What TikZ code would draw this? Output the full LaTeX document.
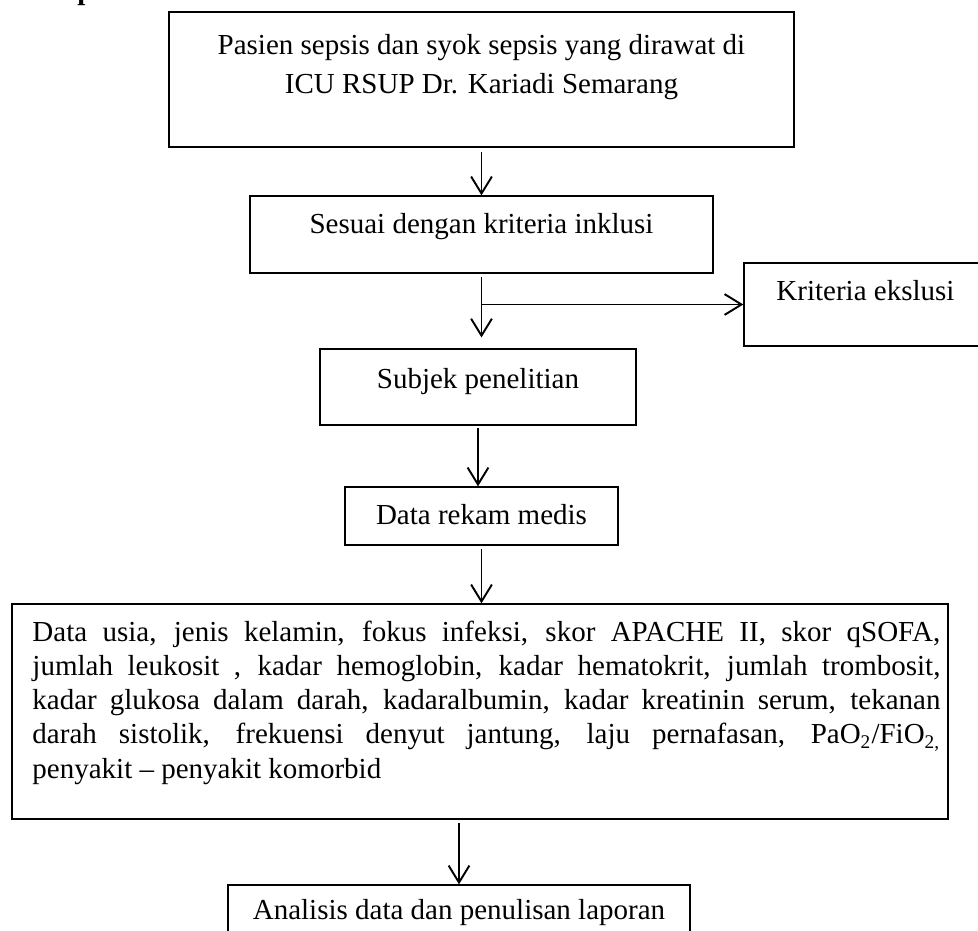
\documentclass[tikz,border=0pt]{standalone}
\usepackage{fontspec}
\setmainfont{Liberation Serif}
\usetikzlibrary{arrows.meta,fit}
\begin{document}
\begin{tikzpicture}[x=0.4138pt,y=-0.4138pt,
  box/.style={draw=black,line width=0.55pt,inner sep=0pt},
  txt/.style={inner sep=0pt,font=\fontsize{12}{14.07}\selectfont},
  arr/.style={-{Straight Barb[length=7pt,width=8.6pt]},line width=0.8pt}]
\useasboundingbox (0,0) rectangle (978,931);
% heading fragment
\node[anchor=base west,inner sep=0pt,font=\bfseries\fontsize{12}{14}\selectfont] (hd) at (77,-0.6) {p};
% boxes
\node[box,fit={(169,12) (794,147)}] (b1) {};
\node[box,fit={(250,196) (713,273)}] (b2) {};
\node[box,fit={(744,263) (990,346)}] (b3) {};
\node[box,fit={(320,349) (636,425)}] (b4) {};
\node[box,fit={(345,487) (618,545)}] (b5) {};
\node[box,fit={(12,604) (948,819)}] (b6) {};
\node[box,fit={(228,885) (690,960)}] (b7) {};
% texts
\node[txt,align=center,anchor=base,font=\fontsize{12}{16.55}\selectfont] (t1) at (481.5,94) {Pasien sepsis dan syok sepsis yang dirawat di\\ICU RSUP Dr. Kariadi Semarang};
\node[txt,anchor=base] (t2) at (481.5,234) {Sesuai dengan kriteria inklusi};
\node[txt,anchor=base west] (t3) at (776,300) {Kriteria ekslusi};
\node[txt,anchor=base] (t4) at (478,389) {Subjek penelitian};
\node[txt,anchor=base] (t5) at (481.5,524) {Data rekam medis};
\node[txt,anchor=base west,text width=375.7pt,align=justify,font=\fontsize{12}{14.2}\selectfont] (t6) at (32,641) {\tolerance=10000\hyphenpenalty=10000 Data usia, jenis kelamin, fokus infeksi, skor APACHE II, skor qSOFA,\linebreak jumlah leukosit , kadar hemoglobin, kadar hematokrit, jumlah trombosit,\linebreak kadar glukosa dalam darah, kadaralbumin, kadar kreatinin serum, tekanan\linebreak darah sistolik, frekuensi denyut jantung, laju pernafasan, PaO\textsubscript{2}/FiO\textsubscript{2,}\linebreak penyakit -- penyakit komorbid};
\node[txt,anchor=base] (t7) at (459,919) {Analisis data dan penulisan laporan};
% connectors
\draw[arr] ([yshift=-2pt]b1.south) -- (b2.north);
\coordinate (br) at (b2.south |- b3.west);
\draw[arr] ([yshift=-1.5pt]b2.south) -- ([yshift=4.5pt]b2.south |- b4.north);
\draw[arr] (br) -- (b3.west);
\draw[arr] ([yshift=-1pt]b4.south) -- (b4.south |- b5.north);
\draw[arr] ([yshift=-1.5pt]b5.south) -- (b5.south |- b6.north);
\draw[arr] ([yshift=-1.5pt]b7.north |- b6.south) -- (b7.north);
\end{tikzpicture}
\end{document}
